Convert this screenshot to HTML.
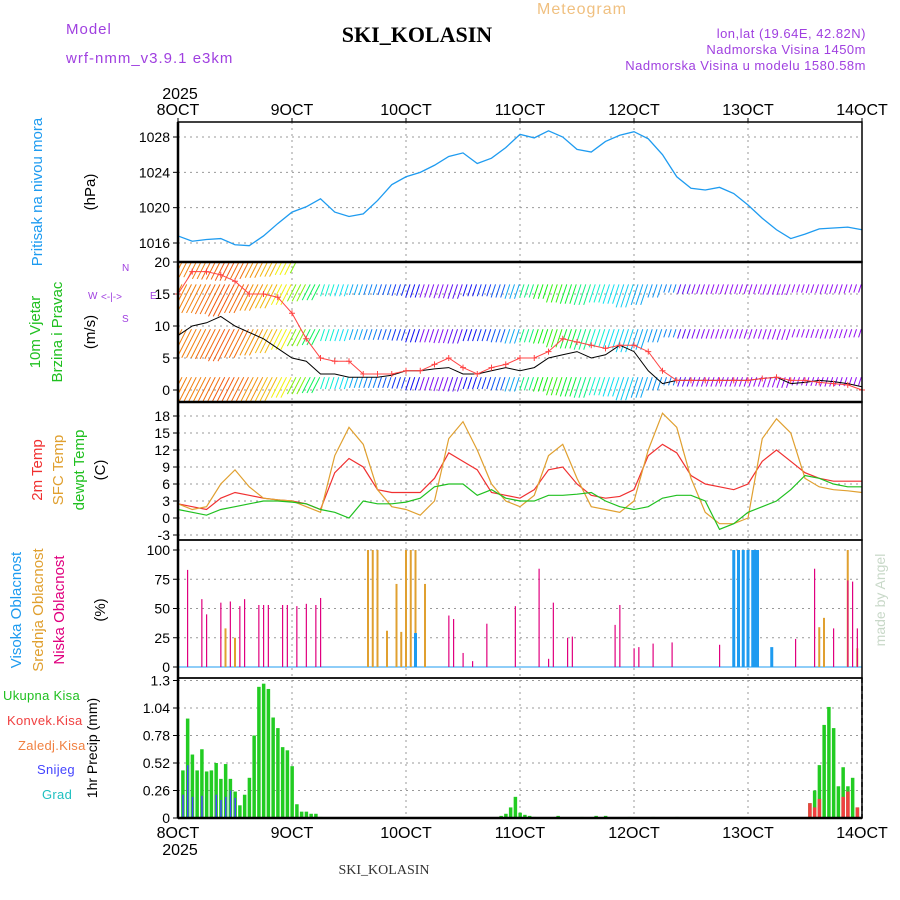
<!DOCTYPE html>
<html><head><meta charset="utf-8"><style>
body{margin:0;background:#fff;}
svg{display:block;font-family:"Liberation Sans",sans-serif;}
</style></head><body>
<svg id="c" width="900" height="900" viewBox="0 0 900 900"><defs><clipPath id="wclip"><rect x="178" y="262" width="684" height="140"/></clipPath></defs></svg>
<script>
const hours3=[0,3,6,9,12,15,18,21,24,27,30,33,36,39,42,45,48,51,54,57,60,63,66,69,72,75,78,81,84,87,90,93,96,99,102,105,108,111,114,117,120,123,126,129,132,135,138,141,144];
const pressure=[1016.8,1016.2,1016.4,1016.5,1015.8,1015.7,1016.8,1018.2,1019.5,1020.1,1021.0,1019.5,1019.0,1019.3,1020.8,1022.6,1023.5,1024.0,1024.8,1025.8,1026.2,1025.0,1025.6,1026.8,1028.3,1027.9,1028.7,1028.0,1026.6,1026.3,1027.5,1028.2,1028.6,1027.8,1026.0,1023.5,1022.2,1022.0,1022.3,1021.6,1020.3,1018.8,1017.5,1016.5,1017.0,1017.6,1017.7,1017.8,1017.5];
const windSpeed=[8.5,10,10.5,11.5,10,9,8,6.5,5,4.5,2.5,2.5,2,2,2,2.3,3,3,3.3,3.5,2.5,2.5,3,3.5,3,3.5,5,5.5,6,5,5.5,7,6,3,1,1.5,1.5,1.5,1.5,1.5,1.5,1.8,2,1,1.2,1.5,1.3,1,0.5];
const windGust=[15,18.5,18.5,18,17,15,15,14.5,12,8,5,4.5,4.5,2.5,2.5,2.5,3,3,4,5,3.5,2.5,3.5,4,5,5,6,8,7.5,7,6.5,7,7,6,3,1.5,1.5,1.5,1.5,1.5,1.5,1.8,2,1.5,1.5,1.2,1,0.8,0];
const windHue=[30,30,25,20,25,35,45,60,90,140,170,185,200,210,220,230,240,270,270,260,240,230,220,200,150,120,110,130,150,170,185,190,200,205,210,260,270,275,275,275,275,275,275,275,275,275,275,275,275];
const t2m=[2.5,2,1.5,3.5,4.5,4,3.5,3.2,3,2.5,1.5,8,10.5,9,5,4.5,4.5,4.5,7,11.5,10,8.5,4.5,4,3.5,5,8.5,9,6,4,3.5,3.8,5,11,13,11.5,7.5,6,5.5,5,6,10,12,10,8,7,6.5,6.5,6.5];
const tSfc=[2.5,1.5,2,6,8.5,5.5,3.5,3.2,3,2,1,11,16,13,5,2,1.5,0.5,3,14,17,12,6,3,2,4,11,13,7,2,1.5,1,3,12,18.5,16,7,1,-1,-1,0,14,17.5,15,7,5.5,5,4.8,4.5];
const tDew=[1.5,1,0.5,1.5,2,2.5,3,3,2.8,2.5,1.5,1,0,3,2.5,2.5,2.8,3.5,5.5,6,6,4,5,3.5,3,3,4,4,4.2,4.5,3,2,1.5,2,3.5,4,4,3,-2,-1,1,2,3,5,7.5,7,6,5.5,5.5];
const lowHours=[2,5,6,9,11,13,14,17,18,19,22,23,25,27,29,30,57,58,60,62,65,71,76,78,79,82,83,92,93,96,97,100,104,114,130,134,138,141,142,143];
const lowVals=[83,58,45,55,56,52,58,53,53,53,53,53,52,54,53,59,44,41,12,5,37,52,84,7,55,25,26,36,53,16,17,20,21,19,24,84,33,74,73,33];
const midHours=[10,12,40,41,42,44,46,47,48,49,50,52,135,136,141,143];
const midVals=[33,25,100,100,100,31,71,30,100,100,100,71,34,42,100,16];
const highHours=[50,117,118,119,120,121,121.5,121.9,122,125];
const highVals=[29,100,100,100,100,100,100,100,100,17];
const precipHours=[1,2,3,4,5,6,7,8,9,10,11,12,13,14,15,16,17,18,19,20,21,22,23,24,25,26,27,28,29,30,68,69,70,71,72,73,74,75,80,85,88,90,95,100,105,133,134,135,136,137,138,139,140,141,142,143];
const precipTotal=[0.45,0.94,0.6,0.45,0.65,0.44,0.45,0.52,0.37,0.51,0.37,0.25,0.12,0.22,0.38,0.78,1.24,1.27,1.22,0.95,0.85,0.67,0.64,0.49,0.13,0.06,0.06,0.04,0.04,0.01,0.02,0.04,0.1,0.2,0.05,0.03,0.02,0.01,0.02,0.01,0.02,0.02,0.01,0.01,0.01,0.14,0.26,0.5,0.88,1.05,0.85,0.3,0.48,0.3,0.38,0.1];
const convHours=[133,134,135,140,141,143];
const convVals=[0.14,0.1,0.18,0.2,0.25,0.1];
const snowHours=[1,2,3,5,8,9,10,11,12];
const snowVals=[0.22,0.5,0.2,0.21,0.22,0.17,0.2,0.26,0.19];
const dayLabels=["8OCT","9OCT","10OCT","11OCT","12OCT","13OCT","14OCT"];

const svg=document.getElementById('c');const NS='http://www.w3.org/2000/svg';
function mk(tag,attrs,name,parent){const e=document.createElementNS(NS,tag);for(const k in attrs)e.setAttribute(k,attrs[k]);


(parent||svg).appendChild(e);return e;}
function txt(x,y,s,attrs,name){const t=mk('text',Object.assign({x:x,y:y},attrs),name);t.textContent=s;return t;}
const X0=178,X1=862;const xh=h=>X0+(X1-X0)*h/144;
const yP=v=>243-(v-1016)*(243-137)/12;
const yW=v=>390-v*(390-262)/20;
const yT=v=>518-v*(518-416)/18;
const yC=v=>667-v*(667-550)/100;
const yR=v=>818-v*(818-680.5)/1.3;
const panels=[[122,262],[262,402],[402,540],[540,678],[678,818]];
for(let d=1;d<6;d++){mk('line',{x1:xh(d*24),x2:xh(d*24),y1:122,y2:818,stroke:'#999','stroke-dasharray':'2,4'},'vertical-grid-line');}
function hgrid(ys){ys.forEach(y=>mk('line',{x1:X0,x2:X1,y1:y,y2:y,stroke:'#999','stroke-dasharray':'2,4'},'horizontal-grid-line'));}
function yTicks(vals,fy,labs,name){vals.forEach((v,i)=>{mk('line',{x1:X0-5,x2:X0,y1:fy(v),y2:fy(v),stroke:'#000'},name+'-tick');txt(X0-8,fy(v)+5,labs[i],{'text-anchor':'end','font-size':14},name+'-label');});hgrid(vals.map(fy));}
yTicks([1016,1020,1024,1028],yP,['1016','1020','1024','1028'],'pressure-axis');
yTicks([0,5,10,15,20],yW,['0','5','10','15','20'],'wind-axis');
yTicks([-3,0,3,6,9,12,15,18],yT,['-3','0','3','6','9','12','15','18'],'temp-axis');
yTicks([0,25,50,75,100],yC,['0','25','50','75','100'],'cloud-axis');
yTicks([0,0.26,0.52,0.78,1.04,1.3],yR,['0','0.26','0.52','0.78','1.04','1.3'],'precip-axis');
mk('polyline',{points:hours3.map((h,i)=>xh(h)+','+yP(pressure[i])).join(' '),fill:'none',stroke:'#1e9bf0','stroke-width':1.3},'pressure-line');
const wg=mk('g',{'clip-path':'url(#wclip)'},'wind-barbs');
const rows=[2,9.5,16.5,20];
for(let h=0;h<=143;h++){const i=Math.floor(h/3);const sp=windSpeed[i];
 rows.forEach((r,ri)=>{ if(ri==3&&h>24) return;
 const len=6+2.6*sp*(ri==3?0.5:1);const y1=yW(r);const ang=h<30?1.1:1.25;
 mk('line',{x1:xh(h)+4,y1:y1,x2:xh(h)+4-len*Math.cos(ang),y2:y1+len*Math.sin(ang),stroke:'hsl('+windHue[i]+',90%,50%)','stroke-width':1},'wind-barb',wg);});}
mk('polyline',{points:hours3.map((h,i)=>xh(h)+','+yW(windSpeed[i])).join(' '),fill:'none',stroke:'#000','stroke-width':1},'wind-speed-line');
mk('polyline',{points:hours3.map((h,i)=>xh(h)+','+yW(windGust[i])).join(' '),fill:'none',stroke:'#f44','stroke-width':1},'wind-gust-line');
hours3.forEach((h,i)=>{const x=xh(h),y=yW(windGust[i]);mk('path',{d:`M${x-3},${y}h6M${x},${y-3}v6`,stroke:'#f44'},'wind-gust-marker');});
[[t2m,'#f03030','temp-2m-line'],[tSfc,'#e0a030','temp-sfc-line'],[tDew,'#20c020','dewpoint-line']].forEach(s=>mk('polyline',{points:hours3.map((h,i)=>xh(h)+','+yT(s[0][i])).join(' '),fill:'none',stroke:s[1],'stroke-width':1.2},s[2]));
mk('line',{x1:X0,x2:X1,y1:yC(0),y2:yC(0),stroke:'#1e9bf0','stroke-width':1},'cloud-baseline');
midHours.forEach((h,i)=>mk('rect',{x:xh(h)-1,y:yC(midVals[i]),width:2,height:yC(0)-yC(midVals[i]),fill:'#e0a030'},'mid-cloud-bar'));
highHours.forEach((h,i)=>mk('rect',{x:xh(h)-1.5,y:yC(highVals[i]),width:3,height:yC(0)-yC(highVals[i]),fill:'#1e9bf0'},'high-cloud-bar'));
lowHours.forEach((h,i)=>mk('rect',{x:xh(h)-0.5,y:yC(lowVals[i]),width:1.2,height:yC(0)-yC(lowVals[i]),fill:'#e0007f'},'low-cloud-bar'));
precipHours.forEach((h,i)=>mk('rect',{x:xh(h)-1.6,y:yR(precipTotal[i]),width:3.5,height:yR(0)-yR(precipTotal[i]),fill:'#22cc22'},'total-precip-bar'));
convHours.forEach((h,i)=>mk('rect',{x:xh(h)-1.6,y:yR(convVals[i]),width:3.5,height:yR(0)-yR(convVals[i]),fill:'#f04040'},'convective-precip-bar'));
snowHours.forEach((h,i)=>mk('rect',{x:xh(h)-0.5,y:yR(snowVals[i]),width:1.5,height:yR(0)-yR(snowVals[i]),fill:'#4444ff'},'snow-precip-bar'));
panels.forEach(p=>mk('rect',{x:X0,y:p[0],width:X1-X0,height:p[1]-p[0],fill:'none',stroke:'#000','stroke-width':1.5},'panel-frame'));
[262,402,818].forEach(y=>mk('line',{x1:X0,x2:X1,y1:y,y2:y,stroke:'#000','stroke-width':2.5},'panel-divider'));
mk('line',{x1:X0,x2:X0,y1:122,y2:818,stroke:'#000','stroke-width':2.5},'left-axis');
mk('line',{x1:X1,x2:X1,y1:678,y2:818,stroke:'#000','stroke-width':1.5,'stroke-dasharray':'5,3'},'precip-right-edge');
dayLabels.forEach((d,i)=>{const x=xh(i*24);txt(x,115,d,{'text-anchor':'middle','font-size':16},'top-day-label');txt(x,838,d,{'text-anchor':'middle','font-size':16},'bottom-day-label');
mk('line',{x1:x,x2:x,y1:118,y2:122,stroke:'#000'},'top-day-tick');});
txt(180,99,'2025',{'text-anchor':'middle','font-size':16},'top-year-label');
txt(180,855,'2025',{'text-anchor':'middle','font-size':16},'bottom-year-label');
txt(417,42,'SKI_KOLASIN',{'text-anchor':'middle','font-size':22,'font-weight':'bold','font-family':'Liberation Serif,serif'},'chart-title');
txt(582,14,'Meteogram',{'text-anchor':'middle','font-size':16,fill:'#f0c080','letter-spacing':'1'},'meteogram-label');
txt(66,34,'Model',{'font-size':15,fill:'#a040e0','letter-spacing':'1'},'model-label');
txt(66,63,'wrf-nmm_v3.9.1 e3km',{'font-size':15,fill:'#a040e0','letter-spacing':'1'},'model-name');
txt(866,38,'lon,lat (19.64E, 42.82N)',{'text-anchor':'end','font-size':13,fill:'#a040e0','letter-spacing':'0.5'},'location-coords');
txt(866,54,'Nadmorska Visina 1450m',{'text-anchor':'end','font-size':13,fill:'#a040e0','letter-spacing':'0.5'},'station-elevation');
txt(866,70,'Nadmorska Visina u modelu 1580.58m',{'text-anchor':'end','font-size':13,fill:'#a040e0','letter-spacing':'0.5'},'model-elevation');
txt(384,874,'SKI_KOLASIN',{'text-anchor':'middle','font-size':14,'font-family':'Liberation Serif,serif',fill:'#333'},'footer-title');
function vt(x,y,s,col,name,size){txt(x,y,s,{'text-anchor':'middle','font-size':size||15,fill:col,transform:`rotate(-90 ${x} ${y})`},name);}
vt(42,192,'Pritisak na nivou mora','#1e9bf0','pressure-title');vt(95,192,'(hPa)','#000','pressure-unit');
vt(40,332,'10m Vjetar','#20c020','wind-title');vt(62,332,'Brzina i Pravac','#20c020','wind-subtitle');vt(95,332,'(m/s)','#000','wind-unit');
vt(42,470,'2m Temp','#f03030','temp-2m-title');vt(63,470,'SFC Temp','#e0a030','temp-sfc-title');vt(84,470,'dewpt Temp','#20c020','dewpoint-title');vt(105,470,'(C)','#000','temp-unit');
vt(21,610,'Visoka Oblacnost','#1e9bf0','high-cloud-title');vt(43,610,'Srednja Oblacnost','#e0a030','mid-cloud-title');vt(64,610,'Niska Oblacnost','#e0007f','low-cloud-title');vt(105,610,'(%)','#000','cloud-unit');
vt(97,748,'1hr Precip (mm)','#000','precip-title',14);
vt(885,600,'made by Angel','#c8d8c8','credit-label',14);
[['Ukupna Kisa','#20c020',700,3],['Konvek.Kisa','#f04040',725,7],['Zaledj.Kisa','#f08040',750,18],['Snijeg','#4444ff',774,37],['Grad','#20c0c0',799,42]].forEach(l=>txt(l[3],l[2],l[0],{'font-size':13,fill:l[1],'letter-spacing':'0.3'},'precip-legend-entry'));
txt(122,271,'N',{'font-size':10,fill:'#a040e0'},'compass-n');txt(88,299,'W',{'font-size':10,fill:'#a040e0'},'compass-w');
txt(101,300,'<-|->',{'font-size':10,fill:'#a040e0'},'compass-ew');txt(150,299,'E',{'font-size':10,fill:'#a040e0'},'compass-e');
txt(122,322,'S',{'font-size':10,fill:'#a040e0'},'compass-s');
</script></body></html>
